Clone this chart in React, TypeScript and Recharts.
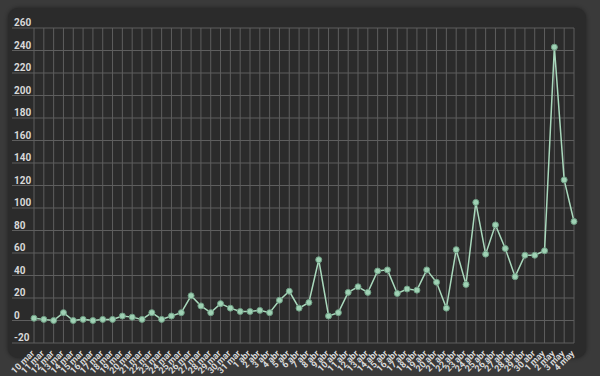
import React from "react";
import { LineChart, Line, XAxis, YAxis, CartesianGrid } from "recharts";

const categories: string[] = [
  "10 mar", "11 mar", "12 mar", "13 mar", "14 mar", "15 mar", "16 mar", "17 mar", "18 mar", "19 mar",
  "20 mar", "21 mar", "22 mar", "23 mar", "24 mar", "25 mar", "26 mar", "27 mar", "28 mar", "29 mar",
  "30 mar", "31 mar",
  "1 abr", "2 abr", "3 abr", "4 abr", "5 abr", "6 abr", "7 abr", "8 abr", "9 abr", "10 abr",
  "11 abr", "12 abr", "13 abr", "14 abr", "15 abr", "16 abr", "17 abr", "18 abr", "19 abr", "20 abr",
  "21 abr", "22 abr", "23 abr", "24 abr", "25 abr", "26 abr", "27 abr", "28 abr", "29 abr", "30 abr",
  "1 may", "2 may", "3 may", "4 may",
];

const values: number[] = [
  2, 1, 0, 7, 0, 1, 0, 1, 1, 4,
  3, 1, 7, 1, 4, 7, 22, 13, 7, 15,
  11, 8,
  8, 9, 7, 18, 26, 11, 16, 54, 4, 7,
  25, 30, 25, 44, 45, 24, 28, 27, 45, 34,
  11, 63, 32, 105, 59, 85, 64, 39, 58, 58,
  62, 243, 125, 88,
];

const yTicks: number[] = [-20, 0, 20, 40, 60, 80, 100, 120, 140, 160, 180, 200, 220, 240, 260];

const data = categories.map((c, i) => ({ name: c, value: values[i] }));

const GRID = "#5e5e5e";
const TEXT = "#d8d8d8";
const FONT = "Roboto, 'DejaVu Sans', sans-serif";

const YTick = (props: any) => {
  const { x, y, payload } = props;
  return (
    <text x={x + 2} y={y - 2} fill={TEXT} fontSize={10} fontWeight={700} fontFamily={FONT} textAnchor="start">
      {payload.value}
    </text>
  );
};

const XTick = (props: any) => {
  const { x, y, payload } = props;
  return (
    <g transform={`translate(${x + 1},${y + 5}) rotate(-45)`}>
      <text x={0} y={0} fill={TEXT} fontSize={9} fontWeight={700} fontFamily={FONT} textAnchor="end">
        {payload.value}
      </text>
    </g>
  );
};

const Empty = () => <g />;

export default function App() {
  return (
    <div style={{ position: "fixed", left: 0, top: 0, width: 600, height: 376, background: "#3a3a3a", overflow: "hidden" }}>
      <div
        style={{
          position: "absolute",
          left: 8,
          top: 8,
          width: 578,
          height: 350,
          background: "#2b2b2b",
          borderRadius: 10,
          boxShadow: "0 0 4px rgba(0,0,0,0.45)",
        }}
      />
      <div style={{ position: "absolute", left: 0, top: 0 }}>
        <LineChart width={600} height={376} data={data} margin={{ top: 28, right: 0, bottom: 0, left: 0 }}>
          <CartesianGrid yAxisId="left" stroke={GRID} strokeWidth={1} />
          <XAxis
            dataKey="name"
            interval={0}
            axisLine={false}
            tickLine={false}
            height={33}
            tick={<XTick />}
            tickMargin={0}
          />
          <YAxis
            yAxisId="left"
            domain={[-20, 260]}
            ticks={yTicks}
            interval={0}
            width={34}
            axisLine={false}
            tickLine={{ stroke: GRID }}
            tickSize={22}
            tickMargin={0}
            tick={<YTick />}
            allowDataOverflow
          />
          <YAxis
            yAxisId="right"
            orientation="right"
            domain={[-20, 260]}
            ticks={yTicks}
            interval={0}
            width={26}
            axisLine={false}
            tickLine={{ stroke: GRID }}
            tickSize={6}
            tick={<Empty />}
          />
          <Line
            yAxisId="left"
            type="linear"
            dataKey="value"
            stroke="#a9d8bc"
            strokeWidth={1.5}
            dot={{ r: 3, fill: "#9fd1b4", stroke: "#6f9e84", strokeWidth: 1 }}
            isAnimationActive={false}
          />
        </LineChart>
      </div>
    </div>
  );
}
